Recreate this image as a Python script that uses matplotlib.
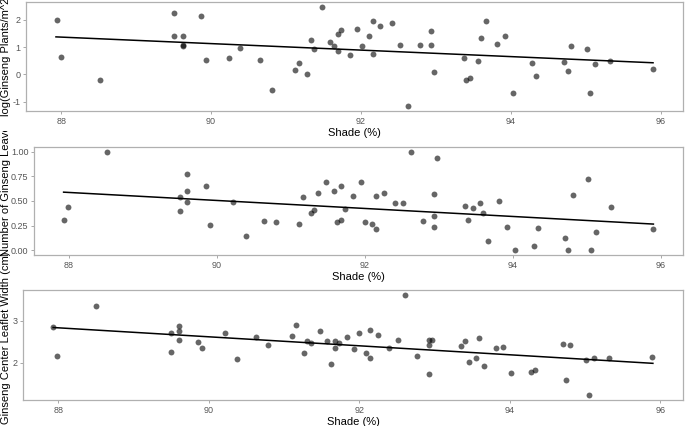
import matplotlib.pyplot as plt
from matplotlib.transforms import Bbox, TransformedBbox

plt.rcParams['font.family'] = ['Liberation Sans', 'DejaVu Sans']

# panel 1: log(Ginseng Plants/m^2)
shade_top = [87.95, 88.00, 88.52, 89.51, 89.51, 89.62, 89.62, 89.62, 89.87, 89.93,
             90.24, 90.39, 90.65, 90.81, 91.12, 91.17, 91.28, 91.33, 91.38, 91.48,
             91.59, 91.64, 91.69, 91.69, 91.74, 91.85, 91.95, 92.01, 92.11, 92.16,
             92.16, 92.26, 92.42, 92.52, 92.63, 92.79, 92.94, 92.94, 92.98, 93.37,
             93.41, 93.46, 93.56, 93.60, 93.67, 93.82, 93.92, 94.03, 94.29, 94.34,
             94.71, 94.76, 94.81, 95.02, 95.06, 95.12, 95.33, 95.90]
plants = [2.00, 0.65, -0.21, 2.27, 1.41, 1.41, 1.07, 1.04, 2.16, 0.53,
          0.60, 0.99, 0.53, -0.57, 0.17, 0.42, 0.00, 1.28, 0.95, 2.48,
          1.21, 1.04, 1.47, 0.85, 1.65, 0.71, 1.68, 1.05, 1.41, 1.98,
          0.77, 1.78, 1.88, 1.10, -1.16, 1.10, 1.60, 1.07, 0.08, 0.61,
          -0.21, -0.13, 0.50, 1.33, 1.98, 1.12, 1.43, -0.68, 0.42, -0.06,
          0.46, 0.13, 1.06, 0.94, -0.68, 0.38, 0.50, 0.19]

# panel 2: Number of Ginseng Leaves
shade_mid = [87.94, 87.99, 88.51, 89.50, 89.50, 89.60, 89.60, 89.60, 89.86, 89.91,
             90.22, 90.39, 90.64, 90.80, 91.11, 91.16, 91.27, 91.32, 91.37, 91.47,
             91.58, 91.63, 91.68, 91.68, 91.73, 91.84, 91.95, 92.00, 92.10, 92.15,
             92.15, 92.26, 92.41, 92.52, 92.62, 92.78, 92.93, 92.93, 92.93, 92.97,
             93.36, 93.40, 93.46, 93.56, 93.60, 93.66, 93.82, 93.92, 94.03, 94.29,
             94.34, 94.71, 94.75, 94.81, 95.02, 95.06, 95.12, 95.33, 95.90]
leaves = [0.31, 0.435, 1.00, 0.54, 0.40, 0.77, 0.60, 0.49, 0.65, 0.26,
          0.485, 0.145, 0.30, 0.29, 0.265, 0.54, 0.38, 0.405, 0.585, 0.695,
          0.605, 0.29, 0.65, 0.31, 0.42, 0.55, 0.69, 0.29, 0.27, 0.55,
          0.215, 0.58, 0.48, 0.48, 1.00, 0.30, 0.57, 0.35, 0.24, 0.94,
          0.45, 0.31, 0.43, 0.48, 0.38, 0.09, 0.50, 0.235, 0.00, 0.045,
          0.22, 0.12, 0.00, 0.56, 0.72, 0.00, 0.18, 0.44, 0.215]

# panel 3: Ginseng Center Leaflet Width (cm)
shade_bot = [87.93, 87.98, 88.50, 89.49, 89.49, 89.60, 89.60, 89.60, 89.85, 89.91,
             90.22, 90.37, 90.63, 90.79, 91.10, 91.16, 91.26, 91.31, 91.36, 91.47,
             91.57, 91.62, 91.68, 91.68, 91.73, 91.84, 91.93, 91.99, 92.09, 92.14,
             92.14, 92.25, 92.40, 92.51, 92.61, 92.77, 92.92, 92.92, 92.92, 92.97,
             93.35, 93.40, 93.45, 93.55, 93.59, 93.66, 93.81, 93.91, 94.02, 94.28,
             94.33, 94.70, 94.75, 94.80, 95.01, 95.05, 95.12, 95.32, 95.89]
width = [2.85, 2.16, 3.35, 2.70, 2.26, 2.87, 2.76, 2.55, 2.50, 2.34,
         2.71, 2.09, 2.62, 2.42, 2.64, 2.89, 2.24, 2.52, 2.48, 2.75,
         2.51, 1.97, 2.51, 2.34, 2.48, 2.62, 2.33, 2.71, 2.22, 2.77,
         2.10, 2.67, 2.35, 2.55, 3.62, 2.16, 2.55, 2.42, 1.73, 2.55,
         2.40, 2.51, 2.01, 2.10, 2.59, 1.92, 2.35, 2.38, 1.74, 1.77,
         1.81, 2.45, 1.59, 2.41, 2.05, 1.22, 2.10, 2.10, 2.13]

# fitted lines
fit_x = [87.93, 95.90]
fit_top = [1.38, 0.43]
fit_mid = [0.59, 0.265]
fit_bot = [2.84, 1.98]

xticks = [88, 90, 92, 94, 96]

W, H = 685, 426
fig = plt.figure(figsize=(W / 100, H / 100), dpi=100)

# (left, right, top, bottom) in pixels, y label centre, top of the strip the label is cut at
boxes = [(26, 683, 2, 111), (34, 683, 147, 255), (23, 683, 290, 400)]
label_y = [55, 188, 338]
label_clip = [0, 131, 0]
panels = [
    (shade_top, plants, fit_top, (-1.34, 2.66), [-1, 0, 1, 2], ['-1', '0', '1', '2'],
     'log(Ginseng Plants/m^2)'),
    (shade_mid, leaves, fit_mid, (-0.05, 1.05), [0, 0.25, 0.5, 0.75, 1.0],
     ['0.00', '0.25', '0.50', '0.75', '1.00'], 'Number of Ginseng Leaves'),
    (shade_bot, width, fit_bot, (1.10, 3.74), [2, 3], ['2', '3'],
     'Ginseng Center Leaflet Width (cm)'),
]

for (l, r, t, b), ly, lc, (xs, ys, fit, ylim, yt, ytl, ylab) in zip(boxes, label_y, label_clip, panels):
    ax = fig.add_axes([l / W, 1 - b / H, (r - l) / W, (b - t) / H])
    ax.scatter(xs, ys, s=18, color='black', alpha=0.6, linewidths=0, zorder=3)
    ax.plot(fit_x, fit, color='black', linewidth=1.1, zorder=4)
    ax.set_xlim(87.53, 96.3)
    ax.set_ylim(*ylim)
    ax.set_xticks(xticks)
    ax.set_xticklabels([str(v) for v in xticks])
    ax.set_yticks(yt)
    ax.set_yticklabels(ytl)
    ax.tick_params(length=2.5, width=0.6, color='#9a9a9a', labelcolor='#555555',
                   labelsize=6.5, pad=1.5)
    for s in ax.spines.values():
        s.set_color('#b0b0b0')
        s.set_linewidth(0.9)
    ax.set_xlabel('Shade (%)', fontsize=8, labelpad=2)
    txt = fig.text(6.5 / W, 1 - ly / H, ylab, rotation=90, ha='center', va='center',
                   fontsize=8)
    txt.set_clip_box(TransformedBbox(Bbox([[0, 0], [1, 1 - lc / H]]), fig.transFigure))
    txt.set_clip_on(True)

fig.savefig('out.png', dpi=100)
